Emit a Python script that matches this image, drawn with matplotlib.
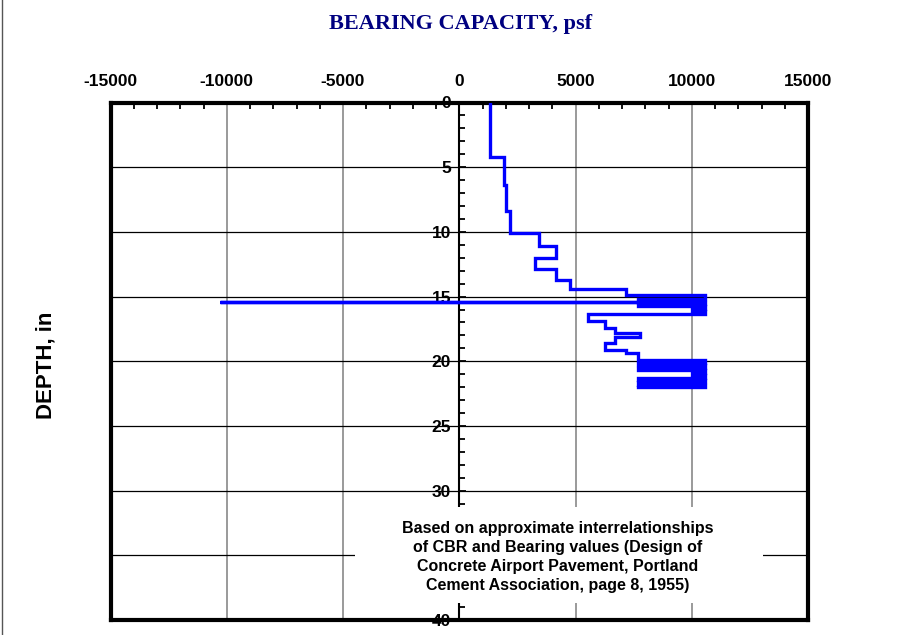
import matplotlib
matplotlib.use("Agg")
import matplotlib.pyplot as plt
from matplotlib.patches import Rectangle
from matplotlib.lines import Line2D
from matplotlib.ticker import MultipleLocator

# ---- data: vertices of the bearing-capacity profile ----
bearing_psf = [1310, 1310, 1940, 1940, 2010, 2010, 2170, 2170, 3430, 3430,
               4150, 4150, 3250, 3250, 4150, 4150, 4750, 4750, 7190, 7190,
               10580, 10580, 7700, 7700, -10300, 10580, 10580, 7700, 7700, 10580,
               10580, 9990, 9990, 10580, 10580, 5540, 5540, 6260, 6260, 6690,
               6690, 7760, 7760, 6690, 6690, 6260, 6260, 7190, 7190, 7700,
               7700, 10580, 10580, 7700, 7700, 10580, 10580, 7700, 7700, 10580,
               10580, 9990, 9990, 10580, 10580, 7700, 7700, 10580, 10580, 7700,
               7700, 10580, 10580, 7700]
depth_in = [0, 4.2, 4.2, 6.4, 6.4, 8.4, 8.4, 10.1, 10.1, 11.1,
            11.1, 12.0, 12.0, 12.9, 12.9, 13.7, 13.7, 14.4, 14.4, 14.85,
            14.85, 15.22, 15.22, 15.4, 15.4, 15.4, 15.6, 15.6, 15.75, 15.75,
            15.95, 15.95, 16.15, 16.15, 16.35, 16.35, 16.9, 16.9, 17.45, 17.45,
            17.8, 17.8, 18.1, 18.1, 18.6, 18.6, 19.1, 19.1, 19.4, 19.4,
            19.9, 19.9, 20.1, 20.1, 20.3, 20.3, 20.5, 20.5, 20.68, 20.68,
            20.87, 20.87, 21.06, 21.06, 21.26, 21.26, 21.45, 21.45, 21.63, 21.63,
            21.82, 21.82, 22.0, 22.0]

x_ticks = [-15000, -10000, -5000, 0, 5000, 10000, 15000]
y_ticks = [0, 5, 10, 15, 20, 25, 30, 35, 40]
y_ticklabels = ["0", "5", "10", "15", "20", "25", "30", "", "40"]
title_text = "BEARING CAPACITY, psf"
ylabel_text = "DEPTH, in"
note_text = ("Based on approximate interrelationships\n"
             "of CBR and Bearing values (Design of\n"
             "Concrete Airport Pavement, Portland\n"
             "Cement Association, page 8, 1955)")

fig = plt.figure(figsize=(9, 6.35), dpi=100)
ax = fig.add_axes([110.5/900, 1-620/635, (808-110.5)/900, (620-102.5)/635])

ax.set_xlim(-15000, 15000)
ax.set_ylim(40, 0)

# grid
for xv in x_ticks[1:-1]:
    if xv != 0:
        ax.axvline(xv, color="#7f7f7f", lw=1.1, zorder=1)
for yv in y_ticks[1:-1]:
    ax.axhline(yv, color="black", lw=0.9, zorder=1)

# data line
ax.plot(bearing_psf, depth_in, color="#0000ff", lw=2.4, zorder=3,
        solid_joinstyle="miter")

# spines
for s in ["top", "bottom", "right"]:
    ax.spines[s].set_linewidth(3)
ax.spines["left"].set_position(("data", 0))
ax.spines["left"].set_linewidth(1.5)
ax.spines["left"].set_zorder(2.6)
# outer left frame line
ax.add_line(Line2D([0, 0], [0, 1], transform=ax.transAxes, color="black",
                   lw=3, zorder=2.6, clip_on=False, solid_capstyle="projecting"))

# x axis on top
ax.xaxis.set_ticks_position("top")
ax.xaxis.set_label_position("top")
ax.set_xticks(x_ticks)
ax.set_xticklabels([str(v) for v in x_ticks])
ax.xaxis.set_minor_locator(MultipleLocator(1000))
ax.tick_params(axis="x", which="major", direction="in", length=0, pad=10,
               labelsize=12.5)
ax.tick_params(axis="x", which="minor", direction="in", length=4, width=1.3)
for lab in ax.get_xticklabels():
    lab.set_fontweight("bold")
    lab.set_fontfamily("Liberation Sans")

ax.yaxis.set_ticks_position("left")
ax.set_yticks(y_ticks)
ax.set_yticklabels(y_ticklabels)
ax.yaxis.set_minor_locator(MultipleLocator(1))
ax.tick_params(axis="y", which="major", direction="in", length=5, width=1.3,
               pad=6, labelsize=12.5)
ax.tick_params(axis="y", which="minor", direction="in", length=4, width=1.3)
for lab in ax.get_yticklabels():
    lab.set_fontweight("bold")
    lab.set_fontfamily("Liberation Sans")

# note with white box
ax.add_patch(Rectangle(((355-110.5)/697.5, (620-603)/517.5), (763-355)/697.5,
                       (603-507)/517.5, transform=ax.transAxes,
                       facecolor="white", edgecolor="none", zorder=2.7))
ax.text((558-110.5)/697.5, (620-557)/517.5, note_text, transform=ax.transAxes,
        ha="center", va="center", fontsize=11.5, fontweight="bold",
        family="Liberation Sans", linespacing=1.32, zorder=4)

# title and y label
fig.text(460.5/900, 1-24/635, title_text, ha="center", va="center",
         fontsize=16, fontweight="bold", family="Liberation Serif",
         color="#000080")
fig.text(46/900, 1-365/635, ylabel_text, ha="center", va="center",
         rotation=90, fontsize=16, fontweight="bold", family="Liberation Sans")

# left border line of the figure
fig.add_artist(Line2D([2/900, 2/900], [0, 1], transform=fig.transFigure,
                      color="#555555", lw=1))

fig.savefig("out.png", dpi=100)
